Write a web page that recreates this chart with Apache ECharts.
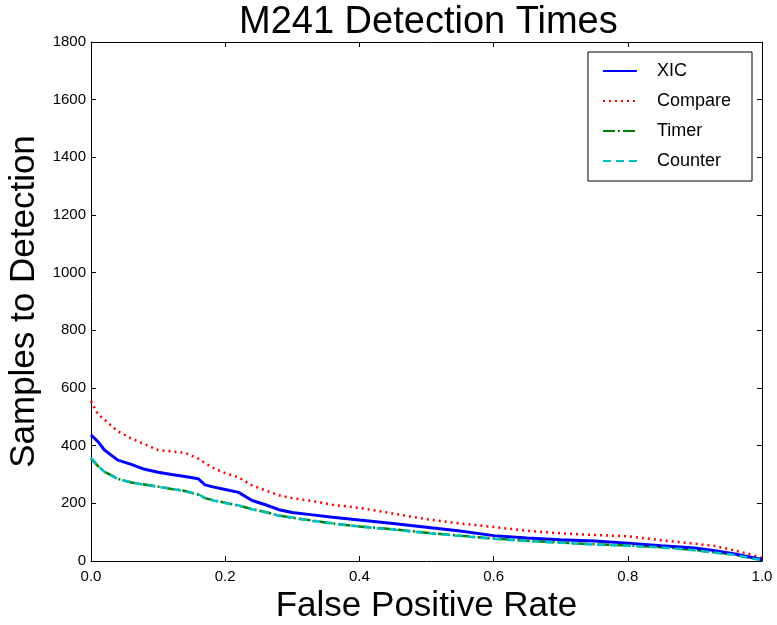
<!DOCTYPE html>
<html>
<head>
<meta charset="utf-8">
<script src="https://cdn.jsdelivr.net/npm/echarts@6/dist/echarts.min.js"></script>
<style>html,body{margin:0;padding:0;background:#fff}#c{width:777px;height:625px}</style>
</head>
<body>
<div id="c"></div>
<script>
var fpr = [0, 0.01, 0.02, 0.04, 0.06, 0.08, 0.10, 0.12, 0.14, 0.16, 0.17, 0.18, 0.20, 0.22, 0.24, 0.26, 0.28, 0.30, 0.33, 0.36, 0.40, 0.45, 0.50, 0.55, 0.60, 0.65, 0.70, 0.75, 0.80, 0.85, 0.90, 0.93, 0.96, 0.98, 1.0];
var xic = [437, 415, 385, 350, 335, 318, 308, 300, 293, 285, 264, 258, 248, 238, 210, 195, 178, 168, 160, 152, 142, 130, 117, 104, 88, 80, 74, 69, 62, 53, 45, 36, 24, 15, 5];
var compare = [555, 510, 490, 450, 425, 405, 385, 380, 375, 355, 340, 325, 305, 290, 262, 245, 228, 218, 208, 195, 184, 165, 145, 130, 118, 105, 96, 90, 86, 72, 60, 52, 36, 25, 10];
var timer = [357, 330, 310, 285, 272, 265, 258, 250, 243, 230, 218, 212, 202, 192, 180, 170, 158, 150, 140, 130, 120, 110, 98, 88, 78, 70, 64, 58, 54, 48, 38, 30, 22, 12, 3];
var counter = [358, 331, 309, 284, 273, 264, 257, 251, 242, 231, 219, 211, 201, 193, 179, 169, 157, 151, 139, 131, 119, 109, 97, 87, 77, 69, 63, 57, 53, 47, 37, 29, 21, 11, 3];
var yTicks = [0, 200, 400, 600, 800, 1000, 1200, 1400, 1600, 1800];

function pairs(ys){ return fpr.map(function(x,i){ return [x, ys[i]]; }); }

var font = 'Liberation Sans, Arial, sans-serif';
var chart = echarts.init(document.getElementById('c'));
var axisCommon = {
  axisLine: {show: true, onZero: false, lineStyle: {color: '#000', width: 1}},
  axisTick: {show: true, inside: true, length: 5, lineStyle: {color: '#000'}},
  splitLine: {show: false}
};
function line(name, ys, color, type, width, z){
  return {
    name: name, type: 'line', data: pairs(ys), symbol: 'none', z: z,
    lineStyle: {color: color, width: width, type: type, cap: 'butt'},
    itemStyle: {color: color}
  };
}
chart.setOption({
  animation: false,
  title: {text: 'M241 Detection Times', left: 234, top: -1,
    textStyle: {fontFamily: font, fontSize: 38, fontWeight: 'normal', color: '#000'}},
  grid: {left: 91, right: 15, top: 42, bottom: 64, outerBoundsMode: 'none', containLabel: false},
  legend: {
    right: 25, top: 52, orient: 'vertical',
    data: ['XIC', 'Compare', 'Timer', 'Counter'],
    itemWidth: 34, itemHeight: 14, itemGap: 12,
    padding: [10, 21, 11, 14],
    borderColor: '#000', borderWidth: 1,
    itemStyle: {opacity: 0},
    textStyle: {fontFamily: font, fontSize: 18, color: '#000', padding: [0, 0, 0, 15]}
  },
  xAxis: [
    Object.assign({type: 'value', min: 0, max: 1, interval: 0.2, position: 'bottom',
      name: 'False Positive Rate', nameLocation: 'middle', nameGap: 25,
      nameTextStyle: {fontFamily: font, fontSize: 35, color: '#000'},
      axisLabel: {fontFamily: font, fontSize: 15, color: '#000', margin: 8,
        formatter: function(v){ return v.toFixed(1); }}}, axisCommon),
    Object.assign({type: 'value', min: 0, max: 1, interval: 0.2, position: 'top',
      axisLabel: {show: false}}, axisCommon)
  ],
  yAxis: [
    Object.assign({type: 'value', min: 0, max: 1800, interval: 200, position: 'left',
      name: 'Samples to Detection', nameLocation: 'middle', nameGap: 43,
      nameTextStyle: {fontFamily: font, fontSize: 35, color: '#000'},
      axisLabel: {fontFamily: font, fontSize: 15, color: '#000', margin: 5,
        formatter: function(v){ return String(v); }}}, axisCommon),
    Object.assign({type: 'value', min: 0, max: 1800, interval: 200, position: 'right',
      axisLabel: {show: false}}, axisCommon)
  ],
  series: [
    line('XIC', xic, '#0000ff', 'solid', 3, 4),
    line('Compare', compare, '#ff0000', [2, 4], 2.5, 3),
    line('Timer', timer, '#008000', [12, 3, 2, 3], 2.5, 2),
    line('Counter', counter, '#00bfbf', [8, 5], 2.5, 5)
  ]
});
</script>
</body>
</html>
